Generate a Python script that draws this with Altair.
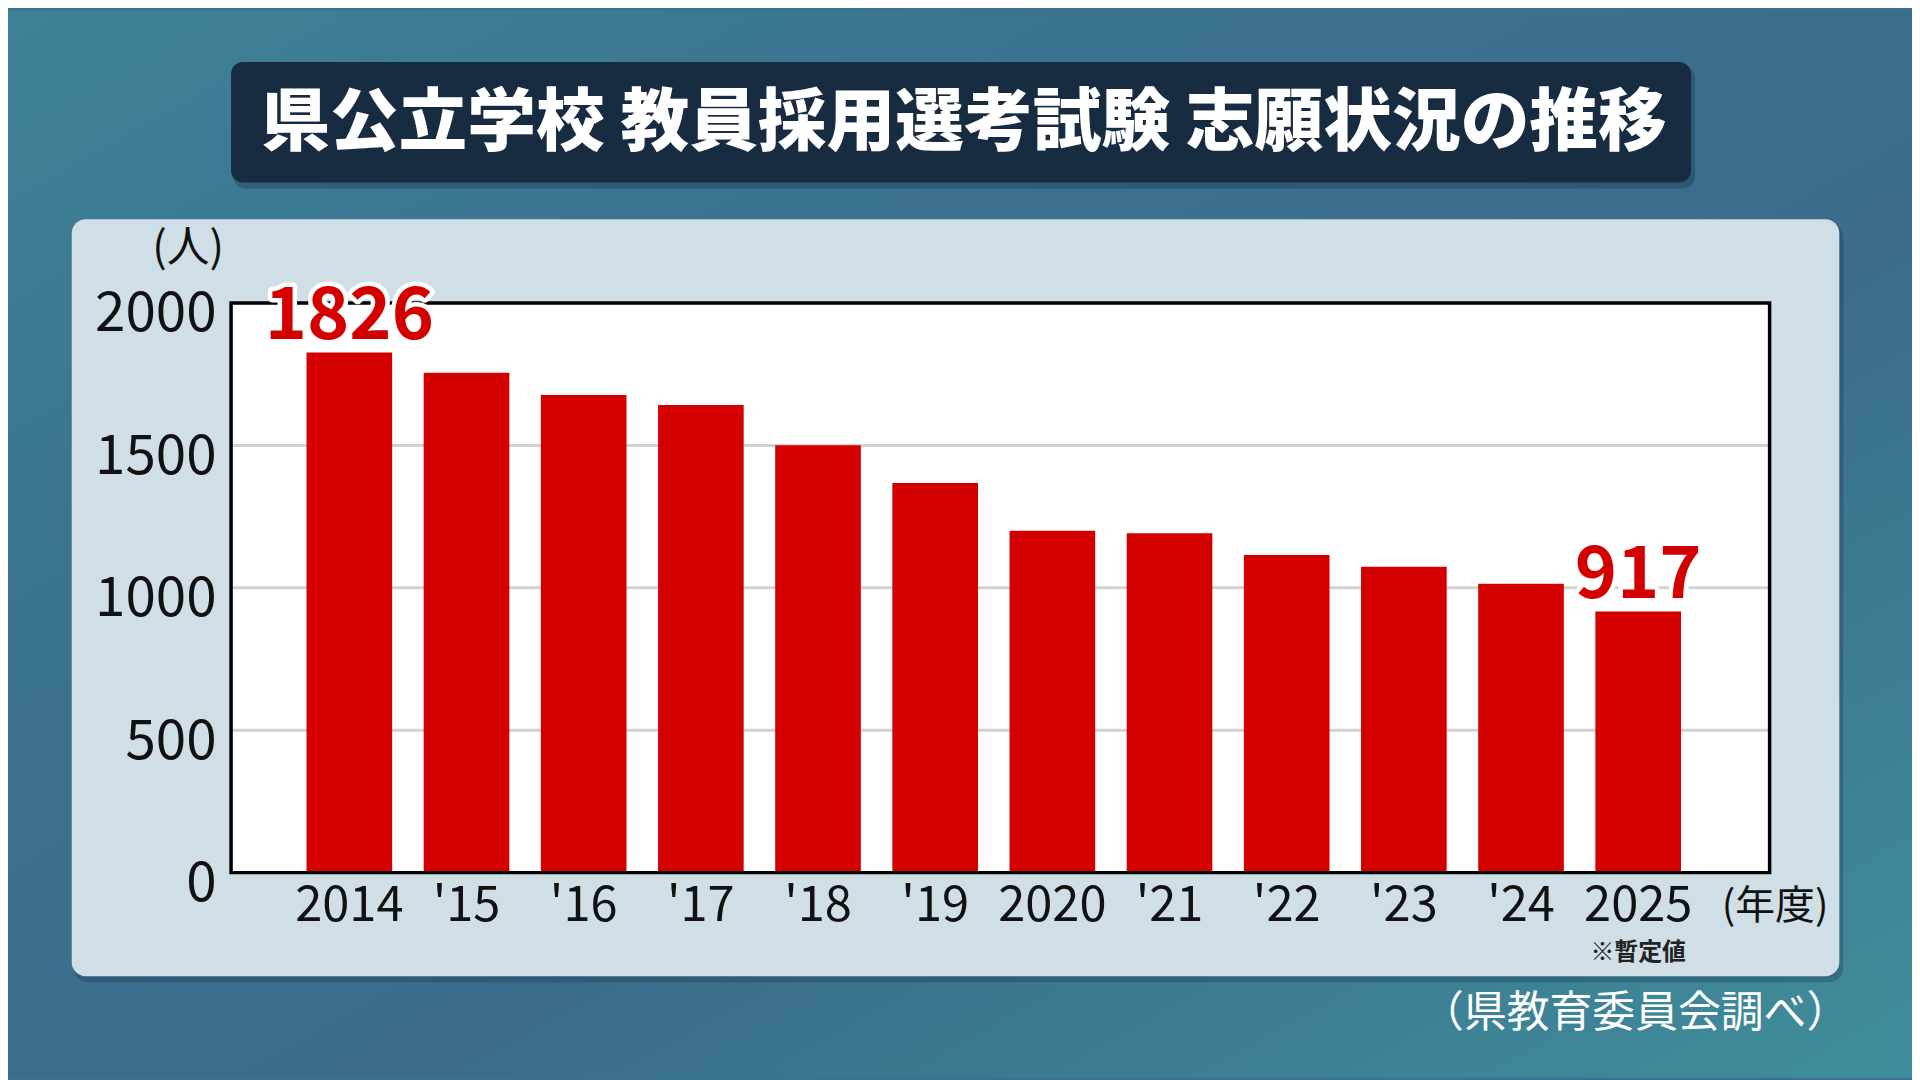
import altair as alt
import pandas as pd

# ---- data ----
years = ["2014", "'15", "'16", "'17", "'18", "'19", "2020", "'21", "'22", "'23", "'24", "2025"]
applicants = [1826, 1755, 1677, 1642, 1501, 1368, 1200, 1192, 1115, 1074, 1014, 917]
grid_values = [500, 1000, 1500]
y_ticks = [0, 500, 1000, 1500, 2000]

title_text = "県公立学校 教員採用選考試験 志願状況の推移"
unit_text = "(人)"
xunit_text = "(年度)"
note_text = "※暫定値"
source_text = "（県教育委員会調べ）"

FONT = "Noto Sans CJK JP"
W, H = 1545, 572

df = pd.DataFrame({"year": years, "value": applicants})
labels_df = df.iloc[[0, len(df) - 1]].copy()
labels_df["text"] = labels_df["value"].astype(str)
grid_df = pd.DataFrame({"g": grid_values})
one = pd.DataFrame({"k": [0]})

yscale = alt.Scale(domain=[0, 2000], nice=False, zero=True)
xscale = alt.Scale(paddingInner=0.269, paddingOuter=0.70, align=0.46)
yaxis = alt.Axis(values=y_ticks, format="d", labelFont=FONT, labelFontSize=55,
                 labelColor="#111111", labelPadding=15, labelOffset=11, ticks=False,
                 tickSize=0, domain=False, grid=False, zindex=1, title=None)
xaxis = alt.Axis(labelFont=FONT, labelFontSize=49, labelColor="#111111",
                 labelAngle=0, labelPadding=33, labelBaseline="middle",
                 ticks=False, tickSize=0, domain=False, grid=False, zindex=1, title=None)

bg = alt.Chart(one).mark_rect(
    color=alt.Gradient(
        gradient="linear",
        stops=[
            alt.GradientStop(color="#3e8297", offset=0),
            alt.GradientStop(color="#3b7290", offset=0.3),
            alt.GradientStop(color="#3b6c8b", offset=0.6),
            alt.GradientStop(color="#3f8e9b", offset=1),
        ],
        x1=0, y1=0, x2=1, y2=1,
    )
).encode(x=alt.value(-224), x2=alt.value(1688), y=alt.value(-294), y2=alt.value(778))

panel_shadow = alt.Chart(one).mark_rect(color="#17324a", opacity=0.3, cornerRadius=14).encode(
    x=alt.value(-158), x2=alt.value(1619), y=alt.value(-80), y2=alt.value(682))
panel = alt.Chart(one).mark_rect(color="#d0dee5", cornerRadius=14).encode(
    x=alt.value(-160), x2=alt.value(1615), y=alt.value(-84), y2=alt.value(676))

title_shadow = alt.Chart(one).mark_rect(color="#10263a", opacity=0.3, cornerRadius=12).encode(
    x=alt.value(2), x2=alt.value(1470), y=alt.value(-238), y2=alt.value(-115))
title_box = alt.Chart(one).mark_rect(color="#172b41", cornerRadius=12).encode(
    x=alt.value(0), x2=alt.value(1466), y=alt.value(-242), y2=alt.value(-121))
title = alt.Chart(one).mark_text(
    text=title_text, font=FONT, fontSize=69, fontWeight=900, color="#ffffff",
    align="center", baseline="middle"
).encode(x=alt.value(736), y=alt.value(-180))

plot_bg = alt.Chart(one).mark_rect(color="#ffffff").encode(
    x=alt.value(0), x2=alt.value(W), y=alt.value(0), y2=alt.value(H))

grid = alt.Chart(grid_df).mark_rule(color="#d2d2d2", strokeWidth=3).encode(
    y=alt.Y("g:Q", scale=yscale, axis=yaxis), x=alt.value(0), x2=alt.value(W))

bars = alt.Chart(df).mark_bar(color="#d40000").encode(
    x=alt.X("year:N", sort=years, scale=xscale, axis=xaxis),
    y=alt.Y("value:Q", scale=yscale, axis=yaxis),
)

border = alt.Chart(one).mark_rect(filled=False, color="#000000", strokeWidth=3.5).encode(
    x=alt.value(0), x2=alt.value(W), y=alt.value(0), y2=alt.value(H))

lab_halo = alt.Chart(labels_df).mark_text(
    font=FONT, fontSize=72, fontWeight="bold", color="#ffffff", stroke="#ffffff",
    strokeWidth=9, strokeJoin="round", baseline="alphabetic", align="center", dy=-14
).encode(x=alt.X("year:N", sort=years, scale=xscale, axis=xaxis),
         y=alt.Y("value:Q", scale=yscale, axis=yaxis), text="text:N")
lab = alt.Chart(labels_df).mark_text(
    font=FONT, fontSize=72, fontWeight="bold", color="#d40000",
    baseline="alphabetic", align="center", dy=-14
).encode(x=alt.X("year:N", sort=years, scale=xscale, axis=xaxis),
         y=alt.Y("value:Q", scale=yscale, axis=yaxis), text="text:N")

unit = alt.Chart(one).mark_text(text=unit_text, font=FONT, fontSize=43, color="#111111",
                                align="right", baseline="middle").encode(
    x=alt.value(-7), y=alt.value(-54))
xunit = alt.Chart(one).mark_text(text=xunit_text, font=FONT, fontSize=40, color="#111111",
                                 align="left", baseline="middle").encode(
    x=alt.value(1497), y=alt.value(607))
note = alt.Chart(one).mark_text(text=note_text, font=FONT, fontSize=24, fontWeight="bold",
                                color="#222222", align="center", baseline="middle").encode(
    x=alt.value(1413), y=alt.value(653))
source = alt.Chart(one).mark_text(text=source_text, font=FONT, fontSize=43, color="#ffffff",
                                  align="center", baseline="middle").encode(
    x=alt.value(1410), y=alt.value(714))

chart = alt.layer(
    bg, panel_shadow, panel, title_shadow, title_box, title,
    plot_bg, grid, bars, border, lab_halo, lab, unit, xunit, note, source
).properties(
    width=W, height=H,
    padding={"left": 224, "top": 294, "right": 143, "bottom": 206},
    autosize=alt.AutoSizeParams(type="none"),
    background="#3b7290",
).configure_view(strokeWidth=0)

chart.save("out.html", embed_options={"renderer": "svg", "actions": False})
